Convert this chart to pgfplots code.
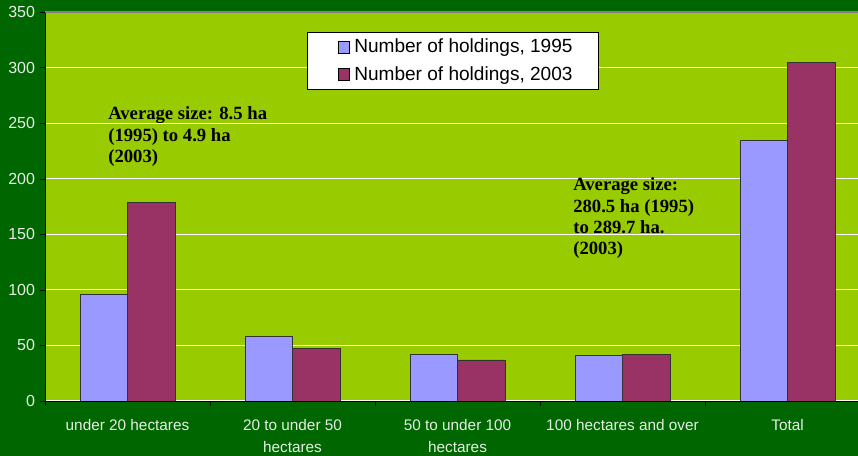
\documentclass[border=0pt]{standalone}
\usepackage{pgfplots}
\pgfplotsset{compat=1.18}
\usepackage{fontspec}
\setmainfont{Liberation Sans}
\newfontfamily\timesfont{Liberation Serif}
\definecolor{outer}{HTML}{006600}
\definecolor{plotbg}{HTML}{99CC00}
\definecolor{cA}{HTML}{9999FF}
\definecolor{cB}{HTML}{993366}
\definecolor{lbl}{HTML}{E6EEE6}
\begin{document}
\begin{tikzpicture}[x=0.75pt,y=0.75pt]
\fill[outer] (0,0) rectangle (858,456);
\useasboundingbox (0,0) rectangle (858,456);
\begin{axis}[
  at={(45pt*0.75,55pt*0.75)}, anchor=south west,
  scale only axis,
  width=609.75pt, height=291.75pt,
  xmin=-0.5, xmax=4.427, ymin=0, ymax=350,
  axis background/.style={fill=plotbg},
  axis x line=bottom, axis y line=left,
  axis line style={black,-},
  ytick={0,50,...,350},
  ymajorgrids, grid style={white, line width=0.8pt},
  xtick={0,1,2,3,4},
  xticklabels={under 20 hectares,{20 to under 50\\hectares},{50 to under 100\\hectares},100 hectares and over,Total},
  x tick label style={align=center, text=lbl, font=\fontsize{11.5}{16.5}\selectfont, yshift=-6pt},
  y tick label style={text=lbl, font=\fontsize{12}{14}\selectfont},
  /pgf/number format/assume math mode=true,
  major x tick style={draw=none},
  minor xtick={-0.5,0.5,1.5,2.5,3.5},
  minor x tick style={black},
  minor tick length=4pt,
  major tick length=4pt,
  tick align=outside,
  ytick style={black},
  legend style={at={(0.322,0.9486)}, anchor=north west, draw=black, fill=white,
    font=\fontsize{14.3}{16}\selectfont, row sep=5pt, inner xsep=18pt, inner ysep=3pt,
    nodes={inner xsep=1pt}},
  legend cell align=left,
  legend image code/.code={\path (0pt,0pt) (16pt,0pt); \draw[#1, draw=black] (5pt,-4.5pt) rectangle (13.5pt,4.5pt);},
  clip=true,
]
\addplot[ybar, bar width=0.288, bar shift=-0.144, fill=cA, draw=black!80] coordinates {(0,96) (1,58) (2,42) (3,41) (4,235)};
\addlegendentry{Number of holdings, 1995}
\addplot[ybar, bar width=0.288, bar shift=0.144, fill=cB, draw=black!80] coordinates {(0,179) (1,47) (2,37) (3,42) (4,305)};
\addlegendentry{Number of holdings, 2003}
\draw[gray, line width=0.8pt] (rel axis cs:0,1) -- (rel axis cs:1,1);
\node[anchor=north west, align=left, font=\timesfont\bfseries\fontsize{14}{16}\selectfont, inner sep=0pt] at (axis cs:-0.118,265) {Average size: 8.5 ha\\(1995) to 4.9 ha\\(2003)};
\node[anchor=north west, align=left, font=\timesfont\bfseries\fontsize{14}{16}\selectfont, inner sep=0pt] at (axis cs:2.70,201) {Average size:\\280.5 ha (1995)\\to 289.7 ha.\\(2003)};
\end{axis}
\end{tikzpicture}
\end{document}
